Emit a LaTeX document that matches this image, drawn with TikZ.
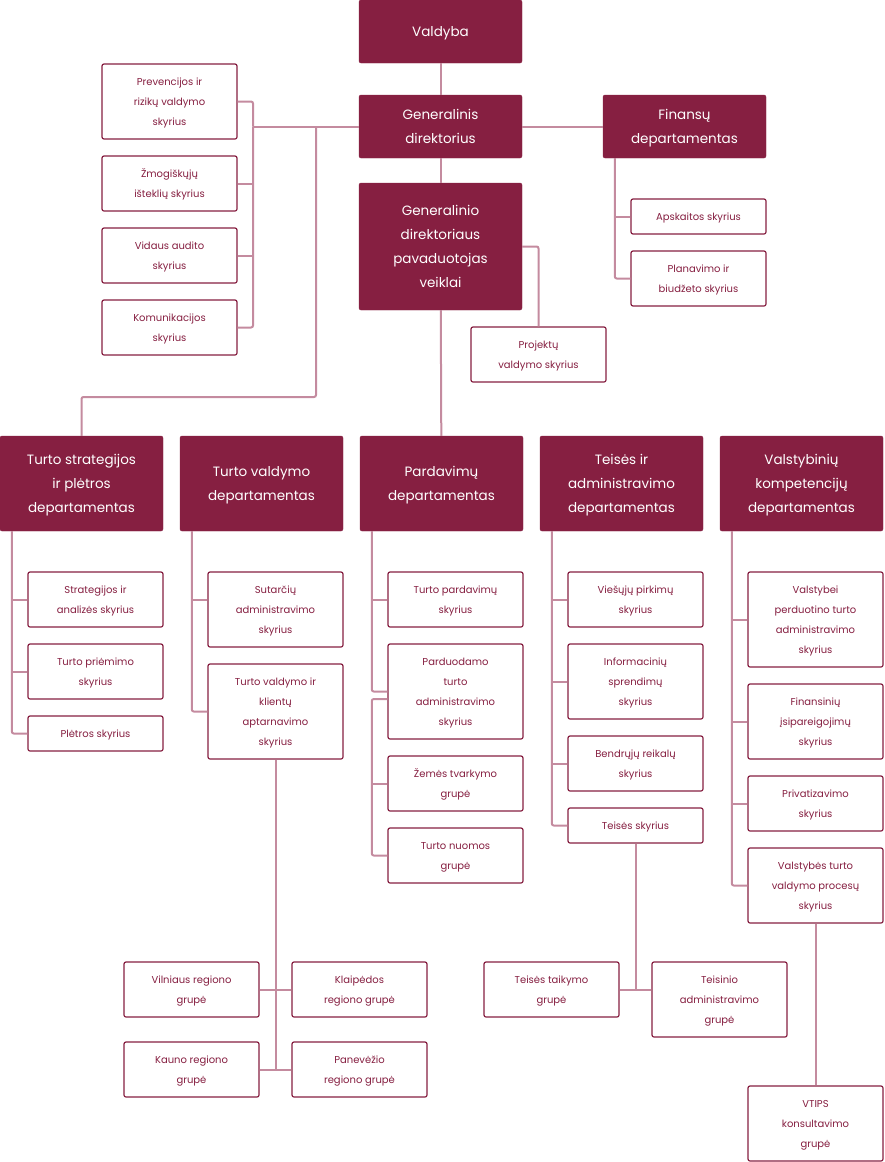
\documentclass[tikz,border=0pt]{standalone}
\usepackage{fontspec}
\setmainfont{Poppins}
\definecolor{maroon}{HTML}{861F41}
\definecolor{linec}{HTML}{C48B9F}
\newcommand{\tl}[1]{\begin{tabular}{@{}c@{}}#1\end{tabular}}
\tikzset{
  darkbox/.style={draw=maroon, fill=maroon, rounded corners=2pt, inner sep=0pt, text=white, minimum width=163pt, font=\fontsize{13.5}{24}\selectfont},
  smallbox/.style={draw=maroon, line width=1.2pt, fill=white, rounded corners=2pt, inner sep=0pt, text=maroon, minimum width=135pt, font=\fontsize{10}{20}\selectfont},
  conn/.style={draw=linec, line width=2pt, rounded corners=2pt},
}
\begin{document}
\begin{tikzpicture}[x=1pt,y=-1pt]
\useasboundingbox (0,0) rectangle (884,1162);
% top level
\node[darkbox, minimum height=63pt] (valdyba) at (440.5,31.5) {\tl{Valdyba}};
\node[darkbox, minimum height=63pt] (gd) at (440.5,126.5) {\tl{Generalinis\\direktorius}};
\node[darkbox, minimum height=63pt] (fin) at (684.5,126.5) {\tl{Finansų\\departamentas}};
\node[darkbox, minimum height=127pt] (pav) at (440.5,246.5) {\tl{Generalinio\\direktoriaus\\pavaduotojas\\veiklai}};
% left staff units
\node[smallbox, minimum height=75pt] (prev) at (169.5,101.5) {\tl{Prevencijos ir\\rizikų valdymo\\skyrius}};
\node[smallbox, minimum height=55pt] (zmog) at (169.5,183.5) {\tl{Žmogiškųjų\\išteklių skyrius}};
\node[smallbox, minimum height=55pt] (vid) at (169.5,255.5) {\tl{Vidaus audito\\skyrius}};
\node[smallbox, minimum height=55pt] (kom) at (169.5,327.5) {\tl{Komunikacijos\\skyrius}};
% finance units
\node[smallbox, minimum height=35pt] (aps) at (698.5,216.5) {\tl{Apskaitos skyrius}};
\node[smallbox, minimum height=55pt] (plan) at (698.5,278.5) {\tl{Planavimo ir\\biudžeto skyrius}};
\node[smallbox, minimum height=55pt] (proj) at (538.5,354.5) {\tl{Projektų\\valdymo skyrius}};
% departments
\node[darkbox, minimum height=95pt] (d1) at (81.5,483.5) {\tl{Turto strategijos\\ir plėtros\\departamentas}};
\node[darkbox, minimum height=95pt] (d2) at (261.5,483.5) {\tl{Turto valdymo\\departamentas}};
\node[darkbox, minimum height=95pt] (d3) at (441.5,483.5) {\tl{Pardavimų\\departamentas}};
\node[darkbox, minimum height=95pt] (d4) at (621.5,483.5) {\tl{Teisės ir\\administravimo\\departamentas}};
\node[darkbox, minimum height=95pt] (d5) at (801.5,483.5) {\tl{Valstybinių\\kompetencijų\\departamentas}};
% column 1
\node[smallbox, minimum height=55pt] (s11) at (95.5,599.5) {\tl{Strategijos ir\\analizės skyrius}};
\node[smallbox, minimum height=55pt] (s12) at (95.5,671.5) {\tl{Turto priėmimo\\skyrius}};
\node[smallbox, minimum height=35pt] (s13) at (95.5,733.5) {\tl{Plėtros skyrius}};
% column 2
\node[smallbox, minimum height=75pt] (s21) at (275.5,609.5) {\tl{Sutarčių\\administravimo\\skyrius}};
\node[smallbox, minimum height=95pt] (s22) at (275.5,711.5) {\tl{Turto valdymo ir\\klientų\\aptarnavimo\\skyrius}};
% column 3
\node[smallbox, minimum height=55pt] (s31) at (455.5,599.5) {\tl{Turto pardavimų\\skyrius}};
\node[smallbox, minimum height=95pt] (s32) at (455.5,691.5) {\tl{Parduodamo\\turto\\administravimo\\skyrius}};
\node[smallbox, minimum height=55pt] (s33) at (455.5,783.5) {\tl{Žemės tvarkymo\\grupė}};
\node[smallbox, minimum height=55pt] (s34) at (455.5,855.5) {\tl{Turto nuomos\\grupė}};
% column 4
\node[smallbox, minimum height=55pt] (s41) at (635.5,599.5) {\tl{Viešųjų pirkimų\\skyrius}};
\node[smallbox, minimum height=75pt] (s42) at (635.5,681.5) {\tl{Informacinių\\sprendimų\\skyrius}};
\node[smallbox, minimum height=55pt] (s43) at (635.5,763.5) {\tl{Bendrųjų reikalų\\skyrius}};
\node[smallbox, minimum height=35pt] (s44) at (635.5,825.5) {\tl{Teisės skyrius}};
% column 5
\node[smallbox, minimum height=95pt] (s51) at (815.5,619.5) {\tl{Valstybei\\perduotino turto\\administravimo\\skyrius}};
\node[smallbox, minimum height=75pt] (s52) at (815.5,721.5) {\tl{Finansinių\\įsipareigojimų\\skyrius}};
\node[smallbox, minimum height=55pt] (s53) at (815.5,803.5) {\tl{Privatizavimo\\skyrius}};
\node[smallbox, minimum height=75pt] (s54) at (815.5,885.5) {\tl{Valstybės turto\\valdymo procesų\\skyrius}};
\node[smallbox, minimum height=75pt] (vtips) at (815.5,1123.5) {\tl{VTIPS\\konsultavimo\\grupė}};
% regional groups
\node[smallbox, minimum height=55pt] (vil) at (191.5,989.5) {\tl{Vilniaus regiono\\grupė}};
\node[smallbox, minimum height=55pt] (kla) at (359.5,989.5) {\tl{Klaipėdos\\regiono grupė}};
\node[smallbox, minimum height=55pt] (kau) at (191.5,1069.5) {\tl{Kauno regiono\\grupė}};
\node[smallbox, minimum height=55pt] (pan) at (359.5,1069.5) {\tl{Panevėžio\\regiono grupė}};
% legal groups
\node[smallbox, minimum height=55pt] (tt) at (551.5,989.5) {\tl{Teisės taikymo\\grupė}};
\node[smallbox, minimum height=75pt] (ta) at (719.5,999.5) {\tl{Teisinio\\administravimo\\grupė}};

% ---- connectors ----
\draw[conn] (valdyba) -- (gd);
\draw[conn] (gd) -- (pav);
\draw[conn] (pav) -- (d3);
\draw[conn] (gd) -- (fin);
\draw[conn] (pav.east) -| (proj.north);
% finance bracket
\coordinate (fx) at ([xshift=12pt]fin.south west);
\draw[conn] (fx) |- (plan.west);
\draw[conn] (aps.west) -- (aps.west -| fx);
% left staff bracket
\coordinate (lbr) at (253,126.5);
\draw[conn] (gd.west) -- (lbr);
\draw[conn] (prev.east) -| (lbr);
\draw[conn] (kom.east) -| (lbr);
\draw[conn] (zmog.east) -- (zmog.east -| lbr);
\draw[conn] (vid.east) -- (vid.east -| lbr);
% branch to department 1
\coordinate (br) at (316,126.5);
\coordinate (br2) at (316,397);
\draw[conn] (br) -- (br2) -| (d1.north);
% department 1
\coordinate (d1x) at ([xshift=12pt]d1.south west);
\draw[conn] (d1x) |- (s13.west);
\draw[conn] (s11.west) -- (s11.west -| d1x);
\draw[conn] (s12.west) -- (s12.west -| d1x);
% department 2
\coordinate (d2x) at ([xshift=12pt]d2.south west);
\draw[conn] (d2x) |- (s22.west);
\draw[conn] ([yshift=10pt]s21.west) -- ([yshift=10pt]s21.west -| d2x);
% department 3
\coordinate (d3x) at ([xshift=12pt]d3.south west);
\draw[conn] (d3x) |- (s32.west);
\draw[conn] (s31.west) -- (s31.west -| d3x);
\coordinate (p2) at ([yshift=-7.5pt]s32.west);
\draw[conn] (p2) -- (p2 -| d3x) |- (s34.west);
\draw[conn] (s33.west) -- (s33.west -| d3x);
% department 4
\coordinate (d4x) at ([xshift=12pt]d4.south west);
\draw[conn] (d4x) |- (s44.west);
\draw[conn] (s41.west) -- (s41.west -| d4x);
\draw[conn] (s42.west) -- (s42.west -| d4x);
\draw[conn] (s43.west) -- (s43.west -| d4x);
% department 5
\coordinate (d5x) at ([xshift=12pt]d5.south west);
\draw[conn] (d5x) |- (s54.west);
\draw[conn] (s51.west) -- (s51.west -| d5x);
\draw[conn] (s52.west) -- (s52.west -| d5x);
\draw[conn] (s53.west) -- (s53.west -| d5x);
\draw[conn] (s54) -- (vtips);
% legal groups
\coordinate (tj) at (s44.south |- tt.east);
\draw[conn] (s44.south) -- (tj);
\draw[conn] (tt.east) -- (tj -| ta.west);
% regional groups
\coordinate (rj) at (s22.south |- kau.east);
\draw[conn] (s22.south) -- (rj);
\draw[conn] (vil.east) -- (kla.west);
\draw[conn] (kau.east) -- (pan.west);
\end{tikzpicture}
\end{document}
